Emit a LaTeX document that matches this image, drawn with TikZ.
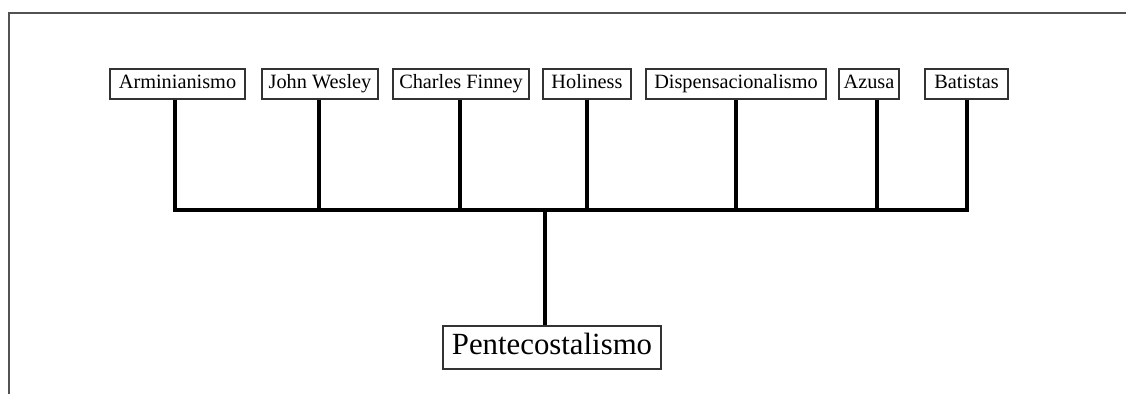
\documentclass[tikz,border=0pt]{standalone}
\usepackage{fontspec}
\setmainfont{Liberation Serif}
\begin{document}
\begin{tikzpicture}[x=1pt,y=-1pt,
  frameline/.style={draw=black!68,line width=2pt},
  srcbox/.style={draw=black!80,line width=1.2pt,fill=white,inner xsep=0pt,
    inner ysep=0pt,minimum height=30pt,text height=14pt,text depth=4.5pt,
    font=\fontsize{20.3pt}{22pt}\selectfont},
  rootbox/.style={draw=black!80,line width=1.2pt,fill=white,inner xsep=0pt,
    inner ysep=0pt,minimum width=218pt,minimum height=43pt,
    text height=21pt,text depth=6.8pt,
    font=\fontsize{30.8pt}{33pt}\selectfont},
  link/.style={line width=4pt,line join=miter}]
\useasboundingbox (0,0) rectangle (1126,394);
% open frame: top and left edges only
\draw[frameline] (1126,13) -- (8.5,13) -- (8.5,394);

% source nodes
\node[srcbox,minimum width=135pt] (arm) at (177.5,84) {Arminianismo};
\node[srcbox,minimum width=116pt] (wes) at (320,84) {John Wesley};
\node[srcbox,minimum width=136pt] (fin) at (461,84) {Charles Finney};
\node[srcbox,minimum width=88pt]  (hol) at (587,84) {Holiness};
\node[srcbox,minimum width=180pt] (dis) at (736,84) {Dispensacionalismo};
\node[srcbox,minimum width=60pt]  (azu) at (869,84) {Azusa};
\node[srcbox,minimum width=83pt]  (bat) at (966.5,84) {Batistas};

% resulting node
\node[rootbox] (pen) at (552,347.5) {Pentecostalismo};

% junction points on the horizontal bar
\coordinate (j1) at (174.5,210);
\coordinate (j2) at (319,210);
\coordinate (j3) at (460,210);
\coordinate (j4) at (587,210);
\coordinate (j5) at (736,210);
\coordinate (j6) at (877,210);
\coordinate (j7) at (966.5,210);
\coordinate (jc) at (545,210);

% connectors
\begin{scope}[on background layer/.style={}]
\draw[link] (arm.south -| j1) -- (j1) -- (j7) -- (bat.south -| j7);
\draw[link] (wes.south -| j2) -- (j2);
\draw[link] (fin.south -| j3) -- (j3);
\draw[link] (hol.south -| j4) -- (j4);
\draw[link] (dis.south -| j5) -- (j5);
\draw[link] (azu.south -| j6) -- (j6);
\draw[link] (jc) -- (pen.north -| jc);
\end{scope}
\end{tikzpicture}
\end{document}
